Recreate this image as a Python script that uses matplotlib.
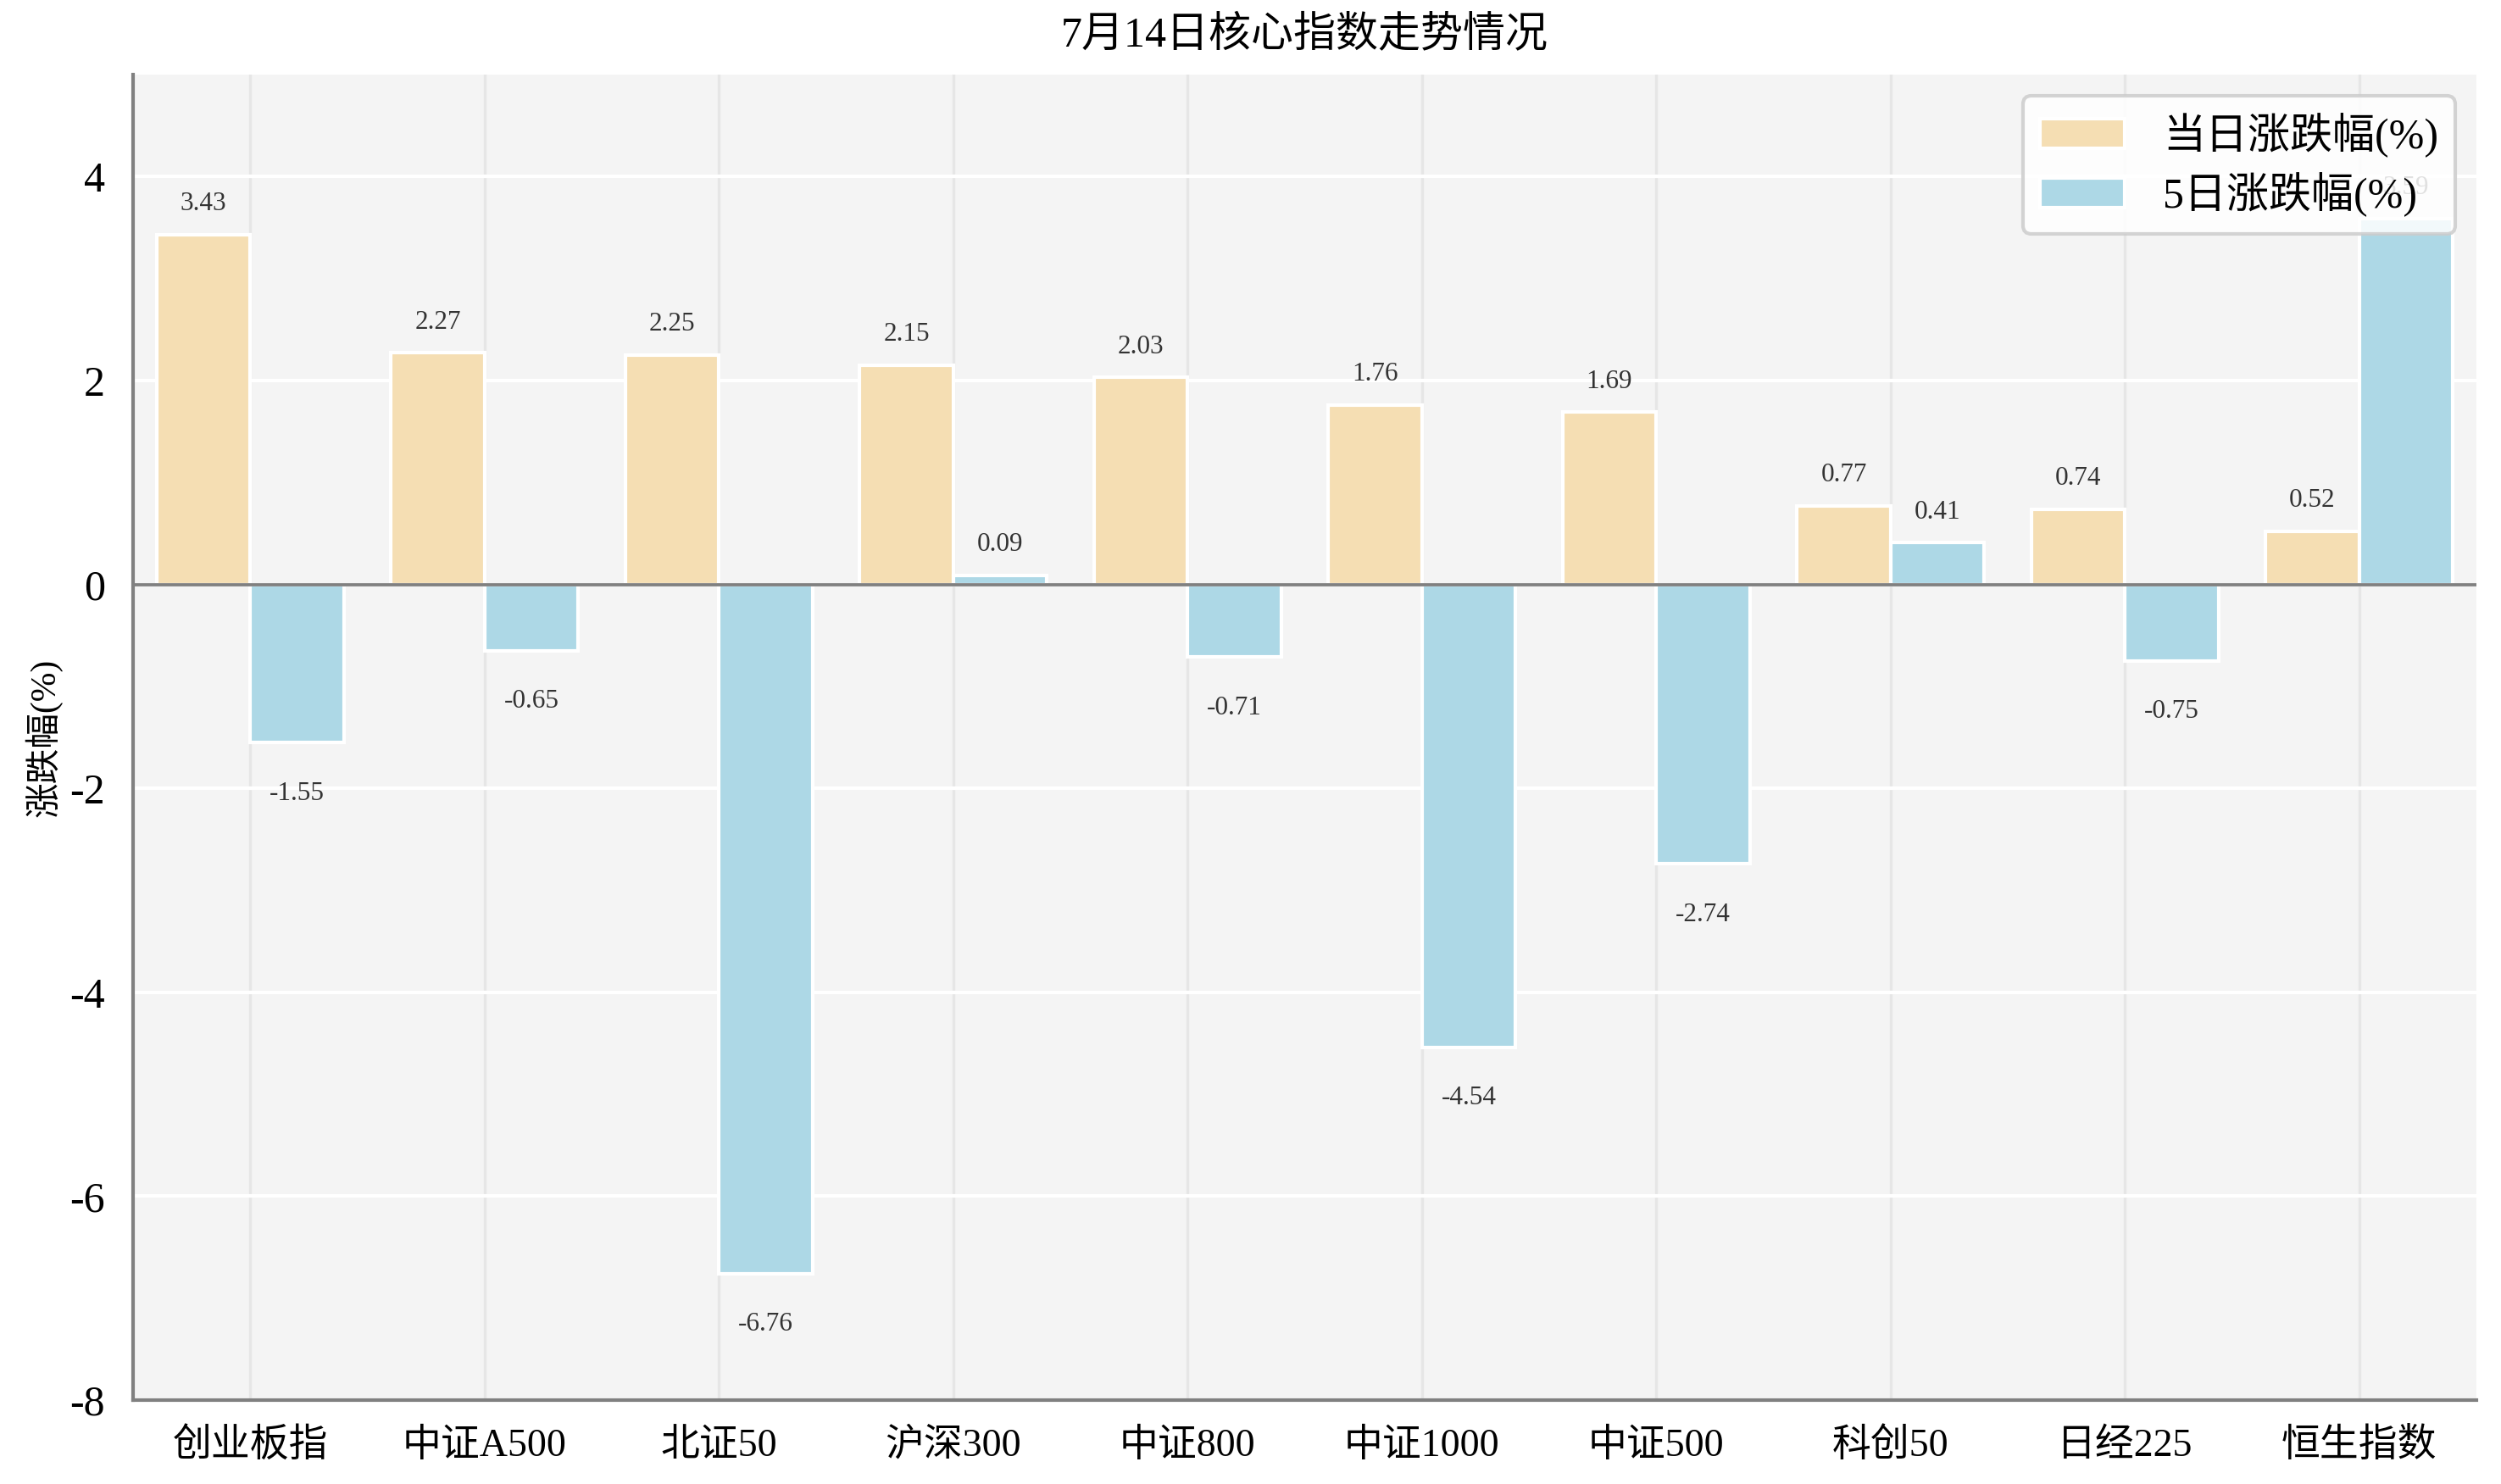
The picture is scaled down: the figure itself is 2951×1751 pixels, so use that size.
import matplotlib
matplotlib.use('Agg')
import numpy as np
import matplotlib.pyplot as plt

# --- 數據 ---
categories = ['创业板指', '中证A500', '北证50', '沪深300', '中证800',
              '中证1000', '中证500', '科创50', '日经225', '恒生指数']
day_change = [3.43, 2.27, 2.25, 2.15, 2.03, 1.76, 1.69, 0.77, 0.74, 0.52]
five_day_change = [-1.55, -0.65, -6.76, 0.09, -0.71, -4.54, -2.74, 0.41, -0.75, 3.59]
y_ticks = [-8, -6, -4, -2, 0, 2, 4]

plt.rcParams['font.family'] = ['Liberation Serif', 'Noto Sans CJK SC', 'DejaVu Sans']
plt.rcParams['axes.unicode_minus'] = False

W, H, DPI = 2951, 1751, 300
fig = plt.figure(figsize=(W / DPI, H / DPI), dpi=DPI)
ax = fig.add_axes([157 / W, 1 - 1652 / H, (2922 - 157) / W, (1652 - 88) / H])

x = np.arange(len(categories))
bw = 0.4
c1, c2 = '#f5deb3', '#add8e6'

ax.set_facecolor('#f4f4f4')
ax.set_axisbelow(True)
ax.grid(axis='y', color='white', linewidth=1.0)
ax.grid(axis='x', color='#e6e6e6', linewidth=0.8)

ax.bar(x - bw / 2, day_change, bw, color=c1, edgecolor='white', linewidth=1.0, label='当日涨跌幅(%)')
ax.bar(x + bw / 2, five_day_change, bw, color=c2, edgecolor='white', linewidth=1.0, label='5日涨跌幅(%)')

for xs, vals in ((x - bw / 2, day_change), (x + bw / 2, five_day_change)):
    for xi, v in zip(xs, vals):
        yy = v + 0.3 if v >= 0 else v - 0.5
        ax.text(xi, yy, f'{v:.2f}', ha='center', va='center', fontsize=7.5, color='#333333')

ax.axhline(0, color='#808080', linewidth=0.9)

ax.set_xlim(-0.5, 9.5)
ax.set_ylim(-8, 5)
ax.set_yticks(y_ticks)
ax.set_xticks(x)
ax.set_xticklabels(categories, fontsize=11)
ax.tick_params(axis='y', labelsize=12, length=0, pad=8)
ax.tick_params(axis='x', length=0, pad=8)
for s in ('top', 'right'):
    ax.spines[s].set_visible(False)
for s in ('left', 'bottom'):
    ax.spines[s].set_color('#808080')
    ax.spines[s].set_linewidth(1.0)

ax.set_ylabel('涨跌幅(%)', fontsize=10, labelpad=2)
ax.set_title('7月14日核心指数走势情况', fontsize=12, pad=8)

leg = ax.legend(loc='upper right', fontsize=12, framealpha=0.85, edgecolor='#cccccc',
                fancybox=True, borderpad=0.4, labelspacing=0.35,
                handlelength=2.0, handletextpad=0.9)
leg.get_frame().set_linewidth(1.0)

fig.savefig('out.png', dpi=DPI)
